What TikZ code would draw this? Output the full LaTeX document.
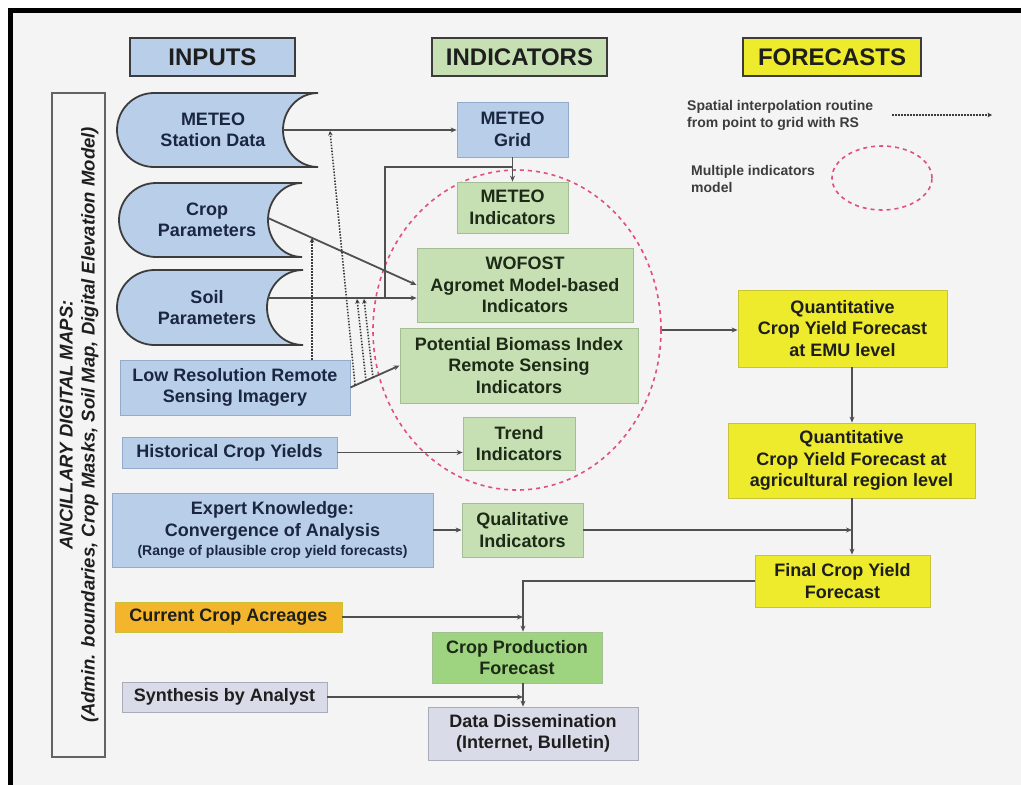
\documentclass[tikz,border=0pt]{standalone}
\usepackage{fontspec}
\setmainfont{Liberation Sans}
\usetikzlibrary{arrows.meta,shapes.geometric,calc}
\definecolor{bgc}{HTML}{F4F4F4}
\definecolor{cblue}{HTML}{B9CFE9}
\definecolor{cblueb}{HTML}{93AACB}
\definecolor{cgreen}{HTML}{C6E0B4}
\definecolor{cgreenb}{HTML}{A4BE94}
\definecolor{cgreentwo}{HTML}{9ED47F}
\definecolor{cyellow}{HTML}{EDEB2C}
\definecolor{cyellowb}{HTML}{C9C33A}
\definecolor{corange}{HTML}{F2B52C}
\definecolor{clav}{HTML}{D9DBE8}
\definecolor{clavb}{HTML}{A9ABB8}
\definecolor{lgray}{HTML}{505050}
\definecolor{hdr}{HTML}{3C3C3C}
\definecolor{redc}{HTML}{E0507A}
\definecolor{navy}{HTML}{1B2640}
\definecolor{dgreen}{HTML}{1C2A16}
\definecolor{txt}{HTML}{1E1E1E}
\begin{document}
\begin{tikzpicture}[x=1pt,y=-1pt,
  base/.style={font=\bfseries\fontsize{18}{21.5}\selectfont, align=center, inner sep=0pt, line width=0.8pt},
  bluebox/.style={base, fill=cblue, draw=cblueb, text=navy},
  greenbox/.style={base, fill=cgreen, draw=cgreenb, text=dgreen},
  greenboxtwo/.style={base, fill=cgreentwo, draw=cgreenb, text=dgreen},
  yellowbox/.style={base, fill=cyellow, draw=cyellowb, text=txt},
  orangebox/.style={base, fill=corange, draw=cyellowb, text=txt},
  lavbox/.style={base, fill=clav, draw=clavb, text=txt},
  header/.style={font=\bfseries\fontsize{24}{28}\selectfont, draw=hdr, line width=2.5pt, inner sep=0pt, minimum height=38pt, text=txt},
  cylshape/.style={fill=cblue, draw=hdr, line width=1.8pt},
  cyltext/.style={base, text=navy},
  plain/.style={draw=lgray, line width=1.8pt},
  conn/.style={plain, -{Stealth[length=6pt,width=5pt]}},
  dotline/.style={draw=hdr, line width=1.6pt, dash pattern=on 1.5pt off 1.5pt, -{Stealth[length=4.5pt,width=4.5pt]}},
  redell/.style={draw=redc, line width=1.6pt, dash pattern=on 4pt off 4pt, ellipse, inner sep=0pt},
  legtext/.style={font=\bfseries\fontsize{14}{17}\selectfont, align=left, text=hdr, inner sep=0pt}
]
\useasboundingbox (0,0) rectangle (1021,785);
\fill[white] (-10,-10) rectangle (1031,795);
\fill[bgc] (10,10) rectangle (1031,795);
\draw[line width=5pt] (10.5,795) -- (10.5,10.5) -- (1031,10.5);

% headers
\node[header, fill=cblue, minimum width=165pt] (inputsH) at (212.5,57) {INPUTS};
\node[header, fill=cgreen, minimum width=175pt] (indH) at (519.5,57) {INDICATORS};
\node[header, fill=cyellow, minimum width=178pt] (foreH) at (832,57) {FORECASTS};

% ancillary box
\node[draw=hdr!80, line width=1.2pt, minimum width=53pt, minimum height=664pt, inner sep=0pt] (ancbox) at (78.5,425) {};
\node[rotate=90, font=\bfseries\itshape\fontsize{18.5}{22}\selectfont, align=center, text=txt] (anc) at (79,425)
  {ANCILLARY DIGITAL MAPS:\\(Admin. boundaries, Crop Masks, Soil Map, Digital Elevation Model)};

% multi indicator ellipse
\node[redell, minimum width=288pt, minimum height=320pt] (multi) at (517,330) {};

% cylinders
\path[cylshape] (154,93) -- (318,93) .. controls (298.67,93) and (283,109.57) .. (283,130)
  .. controls (283,150.43) and (298.67,167) .. (318,167) -- (154,167)
  .. controls (133.57,167) and (117,150.43) .. (117,130)
  .. controls (117,109.57) and (133.57,93) .. (154,93) -- cycle;
\path[cylshape] (156,183) -- (302,183) .. controls (283.22,183) and (268,199.57) .. (268,220)
  .. controls (268,240.43) and (283.22,257) .. (302,257) -- (156,257)
  .. controls (135.57,257) and (119,240.43) .. (119,220)
  .. controls (119,199.57) and (135.57,183) .. (156,183) -- cycle;
\path[cylshape] (154.5,270) -- (303,270) .. controls (283.12,270) and (267,286.79) .. (267,307.5)
  .. controls (267,328.21) and (283.12,345) .. (303,345) -- (154.5,345)
  .. controls (133.79,345) and (117,328.21) .. (117,307.5)
  .. controls (117,286.79) and (133.79,270) .. (154.5,270) -- cycle;
\node[cyltext] (meteoS) at (213,130) {METEO\\Station Data};
\node[cyltext] (cropP) at (207,220) {Crop\\Parameters};
\node[cyltext] (soilP) at (207,307.5) {Soil\\Parameters};
\coordinate (meteoSr) at (283,130);
\coordinate (cropPr) at (268,218);
\coordinate (soilPr) at (268,298);

% input boxes
\node[bluebox, minimum width=230pt, minimum height=55pt] (lowres) at (235,387.5) {Low Resolution Remote\\Sensing Imagery};
\node[bluebox, minimum width=215pt, minimum height=31pt] (hist) at (229.5,452.5) {Historical Crop Yields};
\node[bluebox, minimum width=321pt, minimum height=74pt] (expert) at (272.5,530)
  {Expert Knowledge:\\Convergence of Analysis\\[-2pt]{\fontsize{14}{16}\selectfont (Range of plausible crop yield forecasts)}};
\node[orangebox, minimum width=227pt, minimum height=30pt] (acre) at (228.5,617) {Current Crop Acreages};
\node[lavbox, minimum width=205pt, minimum height=30pt] (synth) at (224.5,697) {Synthesis by Analyst};

% indicator boxes
\node[bluebox, minimum width=111pt, minimum height=55pt] (grid) at (512.5,129.5) {METEO\\Grid};
\node[greenbox, minimum width=111pt, minimum height=51pt] (metind) at (512.5,207.5) {METEO\\Indicators};
\node[greenbox, minimum width=216pt, minimum height=74pt] (wofost) at (525,285) {WOFOST\\Agromet Model-based\\Indicators};
\node[greenbox, minimum width=238pt, minimum height=75pt] (pbi) at (519,365.5) {Potential Biomass Index\\Remote Sensing\\Indicators};
\node[greenbox, minimum width=112pt, minimum height=53pt] (trend) at (519,443.5) {Trend\\Indicators};
\node[greenbox, minimum width=121pt, minimum height=54pt] (qual) at (522.5,530) {Qualitative\\Indicators};
\node[greenboxtwo, minimum width=170pt, minimum height=51pt] (cpf) at (517,657.5) {Crop Production\\Forecast};
\node[lavbox, minimum width=210pt, minimum height=53pt] (diss) at (533,733.5) {Data Dissemination\\(Internet, Bulletin)};

% forecast boxes
\node[yellowbox, minimum width=209pt, minimum height=77pt] (emu) at (842.5,328.5) {Quantitative\\Crop Yield Forecast\\at EMU level};
\node[yellowbox, minimum width=247pt, minimum height=75pt] (agri) at (851.5,460.5) {Quantitative\\Crop Yield Forecast at\\agricultural region level};
\node[yellowbox, minimum width=175pt, minimum height=52pt] (final) at (842.5,581) {Final Crop Yield\\Forecast};

% legend
\node[legtext, anchor=west] (leg1) at (687,115) {Spatial interpolation routine\\from point to grid with RS};
\coordinate (la1) at (892,115);
\coordinate (la2) at (992,115);
\draw[dotline] (la1) -- (la2);
\node[legtext, anchor=west] (leg2) at (691,179) {Multiple indicators\\model};
\node[redell, minimum width=100pt, minimum height=64pt] (legell) at (882,178) {};

% helper coordinates
\coordinate (vx) at (852,0);
\coordinate (cx) at (523,0);
\coordinate (j1) at (513,167);
\coordinate (j2) at (385,167);
\coordinate (j3) at (385,298);
\coordinate (d1) at (312,238);
\coordinate (d2a) at (355,385);
\coordinate (d2b) at (330,131);
\coordinate (d3a) at (366,381);
\coordinate (d3b) at (357,299);
\coordinate (d4a) at (373,378);
\coordinate (d4b) at (364,299);

% connectors
\draw[conn] (meteoSr) -- (grid.west |- meteoSr);
\draw[conn] (grid.south) -- (metind.north);
\draw[plain] (j1) -- (j2) -- (j3);
\draw[conn] (cropPr) -- (wofost.west);
\draw[conn] (soilPr) -- (wofost.west |- soilPr);
\draw[conn] (lowres.east) -- (pbi.west);
\draw[dotline] (lowres.north -| d1) -- (d1);
\draw[dotline] (d2a) -- (d2b);
\draw[dotline] (d3a) -- (d3b);
\draw[dotline] (d4a) -- (d4b);
\draw[conn] (multi.east) -- (multi.east -| emu.west);
\draw[conn] (hist.east) -- (hist.east -| trend.west);
\draw[conn] (expert.east) -- (qual.west);
\draw[conn] (emu.south -| vx) -- (agri.north -| vx);
\draw[conn] (agri.south -| vx) -- (final.north -| vx);
\draw[conn] (qual.east) -- (qual.east -| vx);
\draw[conn] (final.west) -- (final.west -| cx) -- (cpf.north -| cx);
\draw[conn] (acre.east) -- (acre.east -| cx);
\draw[conn] (cpf.south -| cx) -- (diss.north -| cx);
\draw[conn] (synth.east) -- (synth.east -| cx);
\end{tikzpicture}
\end{document}
